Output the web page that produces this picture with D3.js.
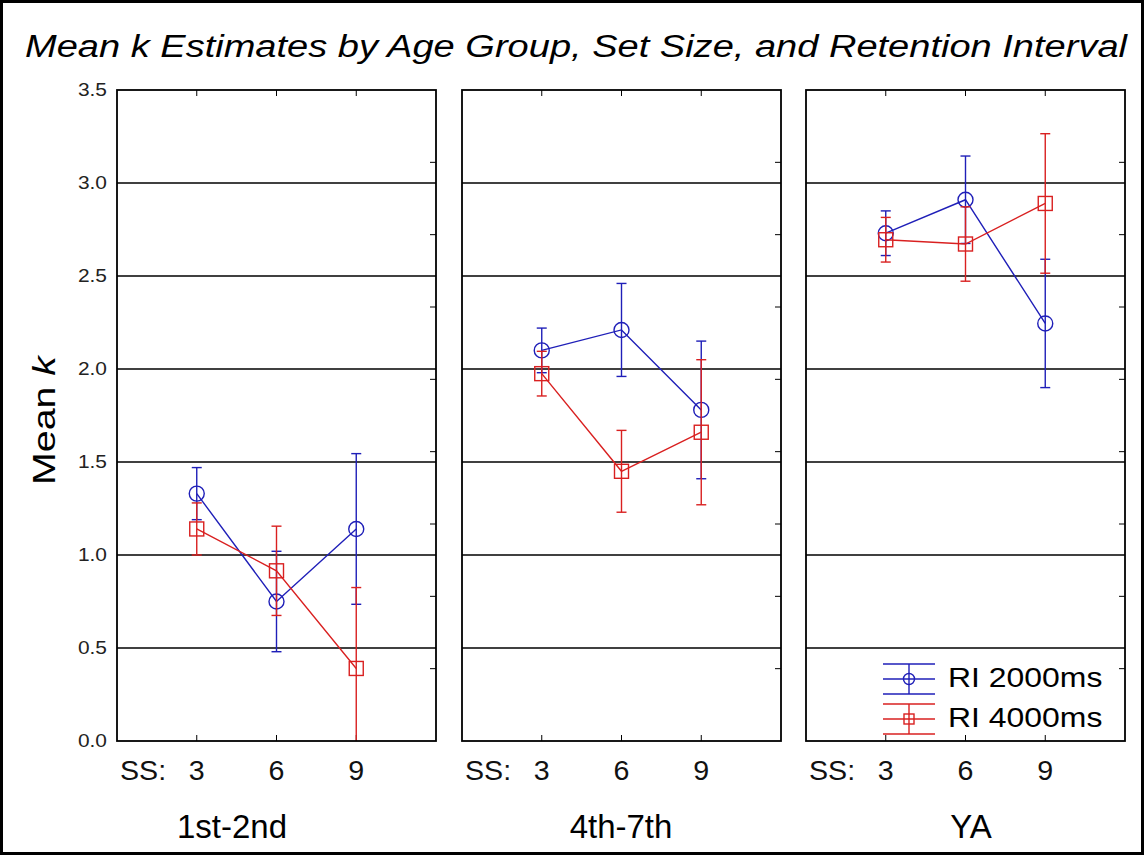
<!DOCTYPE html>
<html>
<head>
<meta charset="utf-8">
<script src="https://cdn.jsdelivr.net/npm/d3@7"></script>
<style>
  html, body { margin: 0; padding: 0; background: #fff; }
  svg { display: block; font-family: "Liberation Sans", Arial, sans-serif; }
</style>
</head>
<body>
<svg id="chart" width="1144" height="855"></svg>
<script>
// ---------------- data ----------------
const groups = ["1st-2nd", "4th-7th", "YA"];
const setSizes = [3, 6, 9];
const yTicks = [0.0, 0.5, 1.0, 1.5, 2.0, 2.5, 3.0, 3.5];
const seriesNames = ["RI 2000ms", "RI 4000ms"];
// means per group (rows) x set size (cols)
const ri2000Mean = [[1.33, 0.75, 1.14], [2.10, 2.21, 1.78], [2.73, 2.91, 2.245]];
const ri2000Err  = [[0.14, 0.27, 0.405], [0.12, 0.25, 0.37], [0.12, 0.235, 0.345]];
const ri4000Mean = [[1.14, 0.915, 0.39], [1.975, 1.45, 1.66], [2.695, 2.672, 2.89]];
const ri4000Err  = [[0.14, 0.24, 0.435], [0.12, 0.22, 0.39], [0.12, 0.20, 0.375]];

// ---------------- layout ----------------
const W = 1144, H = 855;
const panelLeft = [117, 462, 806];
const panelW = 319;
const plotTop = 90, plotBottom = 741;
const groupLabelX = [232, 621, 971];
const blue = "#1f1fb8", red = "#d92020";

const svg = d3.select("#chart");

function stretch(sel, f) {
  sel.each(function () {
    const l = this.getComputedTextLength();
    this.setAttribute("textLength", l * f);
    this.setAttribute("lengthAdjust", "spacingAndGlyphs");
  });
}

// outer frame
svg.append("rect").attr("x", 1.5).attr("y", 1.5).attr("width", W - 3).attr("height", H - 3)
  .attr("fill", "none").attr("stroke", "#000").attr("stroke-width", 3);

// title
svg.append("text").attr("x", 25).attr("y", 57)
  .attr("font-size", 31).attr("font-style", "italic").attr("fill", "#000")
  .attr("textLength", 1102).attr("lengthAdjust", "spacingAndGlyphs")
  .text("Mean k Estimates by Age Group, Set Size, and Retention Interval");

const y = d3.scaleLinear().domain([0, 3.5]).range([plotBottom, plotTop]);
const rightTicks = d3.range(1, 9).map(i => 3.5 * i / 9);

// y-axis label
const yl = svg.append("text")
  .attr("transform", `translate(55,${(plotTop + plotBottom) / 2 + 5}) rotate(-90)`)
  .attr("text-anchor", "middle").attr("font-size", 31).attr("fill", "#000");
yl.append("tspan").text("Mean ");
yl.append("tspan").attr("font-style", "italic").text("k");
stretch(yl, 1.27);

// y tick labels (panel 1 only)
const yt = svg.append("g").selectAll("text").data(yTicks).join("text")
  .attr("x", panelLeft[0] - 10).attr("y", d => y(d) + 6)
  .attr("text-anchor", "end").attr("font-size", 19).attr("fill", "#222")
  .text(d => d.toFixed(1));
stretch(yt, 1.1);

const series = [
  { name: seriesNames[0], mean: ri2000Mean, err: ri2000Err, color: blue, shape: "circle" },
  { name: seriesNames[1], mean: ri4000Mean, err: ri4000Err, color: red, shape: "square" }
];

groups.forEach((g, gi) => {
  const x0 = panelLeft[gi];
  const x = d3.scaleLinear().domain([0, 4]).range([x0, x0 + panelW]);
  const p = svg.append("g");

  const clipId = "clip" + gi;
  svg.append("clipPath").attr("id", clipId).append("rect")
    .attr("x", x0).attr("y", plotTop).attr("width", panelW).attr("height", plotBottom - plotTop);

  // gridlines
  p.selectAll("line.grid").data(yTicks.filter(d => d > 0 && d < 3.5)).join("line")
    .attr("x1", x0).attr("x2", x0 + panelW).attr("y1", d => y(d)).attr("y2", d => y(d))
    .attr("stroke", "#000").attr("stroke-width", 1.5);

  // top/bottom ticks
  setSizes.forEach((s, i) => {
    const xx = x(i + 1);
    p.append("line").attr("x1", xx).attr("x2", xx).attr("y1", plotTop).attr("y2", plotTop + 6)
      .attr("stroke", "#000").attr("stroke-width", 1);
    p.append("line").attr("x1", xx).attr("x2", xx).attr("y1", plotBottom).attr("y2", plotBottom - 6)
      .attr("stroke", "#000").attr("stroke-width", 1);
  });
  // right minor ticks
  p.selectAll("line.rt").data(rightTicks).join("line")
    .attr("x1", x0 + panelW).attr("x2", x0 + panelW - 6)
    .attr("y1", d => y(d)).attr("y2", d => y(d))
    .attr("stroke", "#000").attr("stroke-width", 1);

  // data
  const dg = p.append("g").attr("clip-path", `url(#${clipId})`);
  series.forEach(sr => {
    const pts = setSizes.map((s, i) => ({ x: x(i + 1), m: sr.mean[gi][i], e: sr.err[gi][i] }));
    const line = d3.line().x(d => d.x).y(d => y(d.m));
    dg.append("path").attr("d", line(pts)).attr("fill", "none")
      .attr("stroke", sr.color).attr("stroke-width", 1.4);
    pts.forEach(d => {
      const g2 = dg.append("g").attr("stroke", sr.color).attr("stroke-width", 1.4).attr("fill", "none");
      g2.append("line").attr("x1", d.x).attr("x2", d.x).attr("y1", y(d.m - d.e)).attr("y2", y(d.m + d.e));
      [d.m - d.e, d.m + d.e].forEach(v => {
        g2.append("line").attr("x1", d.x - 5).attr("x2", d.x + 5).attr("y1", y(v)).attr("y2", y(v));
      });
      if (sr.shape === "circle") {
        g2.append("circle").attr("cx", d.x).attr("cy", y(d.m)).attr("r", 7.5);
      } else {
        g2.append("rect").attr("x", d.x - 7).attr("y", y(d.m) - 7).attr("width", 14).attr("height", 14);
      }
    });
  });

  // panel frame
  p.append("rect").attr("x", x0).attr("y", plotTop).attr("width", panelW).attr("height", plotBottom - plotTop)
    .attr("fill", "none").attr("stroke", "#000").attr("stroke-width", 1.8);

  // x labels
  const ss = p.append("text").attr("x", x0 + 3).attr("y", 780)
    .attr("font-size", 27).attr("fill", "#111").text("SS:");
  stretch(ss, 1.06);
  const xl = p.selectAll("text.xl").data(setSizes).join("text")
    .attr("x", (d, i) => x(i + 1)).attr("y", 780).attr("text-anchor", "middle")
    .attr("font-size", 27).attr("fill", "#111").text(d => d);
  stretch(xl, 1.06);

  // group label
  p.append("text").attr("x", groupLabelX[gi]).attr("y", 838).attr("text-anchor", "middle")
    .attr("font-size", 33).attr("fill", "#000").text(g);
});

// legend (inside YA panel)
const lg = svg.append("g");
const legY = [679, 719];
const legX = 909;
series.forEach((sr, i) => {
  const cy = legY[i];
  const g2 = lg.append("g").attr("stroke", sr.color).attr("stroke-width", 1.4).attr("fill", "none");
  [-15, 0, 15].forEach(dy => {
    g2.append("line").attr("x1", legX - 26).attr("x2", legX + 26).attr("y1", cy + dy).attr("y2", cy + dy);
  });
  g2.append("line").attr("x1", legX).attr("x2", legX).attr("y1", cy - 15).attr("y2", cy + 15);
  if (sr.shape === "circle") g2.append("circle").attr("cx", legX).attr("cy", cy).attr("r", 5.5);
  else g2.append("rect").attr("x", legX - 5).attr("y", cy - 5).attr("width", 10).attr("height", 10);
  const t = lg.append("text").attr("x", 948).attr("y", cy + 8)
    .attr("font-size", 28).attr("fill", "#000").text(sr.name);
  stretch(t, 1.14);
});
</script>
</body>
</html>
